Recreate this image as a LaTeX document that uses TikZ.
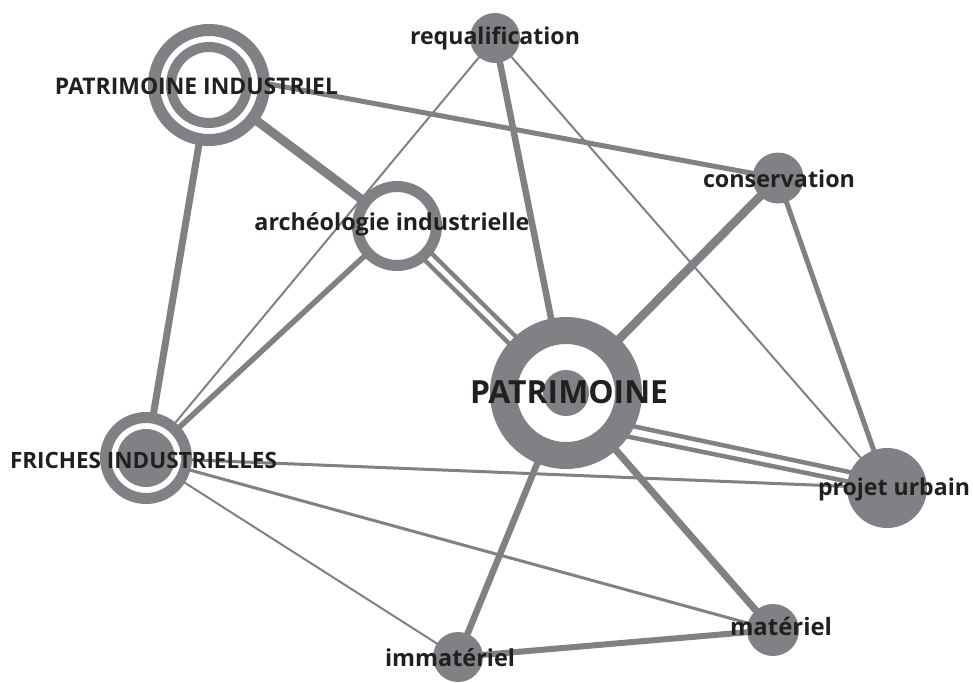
\documentclass[tikz,border=0pt]{standalone}
\usepackage{fontspec}
\setmainfont{Open Sans}
\usepackage{graphicx}
\definecolor{gr}{RGB}{128,129,133}
\definecolor{tx}{RGB}{35,31,32}
\newcommand\lbl[2]{\resizebox{#1pt}{!}{\bfseries #2}}
\begin{document}
\begin{tikzpicture}[x=1pt,y=-1pt,
  edge/.style={draw=gr, line cap=butt},
  dbl/.style={draw=gr, double=white, double distance=5pt, line width=4.5pt},
  lab/.style={anchor=base, inner sep=0pt, outer sep=0pt, text=tx}]
\useasboundingbox[fill=white] (0,0) rectangle (973,682);
% node centres
\coordinate (pi) at (209,85);
\coordinate (rq) at (495,38);
\coordinate (cs) at (778,178);
\coordinate (ar) at (397,226);
\coordinate (pa) at (566,393);
\coordinate (fr) at (146,458);
\coordinate (pu) at (887,488);
\coordinate (im) at (458,657);
\coordinate (ma) at (773,630);
% connectors
\draw[dbl] (ar) -- (pa);
\draw[edge, line width=4.5] ([yshift=-19pt]pa) -- ([yshift=8pt]pu);
\draw[edge, line width=4.5] ([yshift=-31pt]pa) -- ([yshift=-1.5pt]pu);
\draw[edge, line width=5] ([yshift=12pt]pi) -- (cs);
\draw[edge, line width=9] (pi) -- (ar);
\draw[edge, line width=7] (pi) -- (fr);
\draw[edge, line width=2] (rq) -- (fr);
\draw[edge, line width=6.5] (rq) -- (pa);
\draw[edge, line width=2] (rq) -- (pu);
\draw[edge, line width=5.5] (ar) -- (fr);
\draw[edge, line width=8.5] (cs) -- (pa);
\draw[edge, line width=5] (cs) -- (pu);
\draw[edge, line width=6.5] (pa) -- (im);
\draw[edge, line width=7] (pa) -- (ma);
\draw[edge, line width=3] (fr) -- (pu);
\draw[edge, line width=3] (fr) -- (ma);
\draw[edge, line width=2] (fr) -- (im);
\draw[edge, line width=6] (im) -- (ma);
% node shapes
\draw[gr, line width=12, fill=white] (pi) circle[radius=55pt];
\draw[gr, line width=10] (pi) circle[radius=38pt];
\fill[gr] (rq) circle[radius=25pt];
\fill[gr] (cs) circle[radius=25.5pt];
\draw[gr, line width=11, fill=white] (ar) circle[radius=39.5pt];
\draw[gr, line width=27, fill=white] (pa) circle[radius=62.5pt];
\fill[gr] (pa) circle[radius=23pt];
\draw[gr, line width=11, fill=white] (fr) circle[radius=40.5pt];
\fill[gr] (fr) circle[radius=29pt];
\fill[gr] (pu) circle[radius=40pt];
\fill[gr] (im) circle[radius=25pt];
\fill[gr] (ma) circle[radius=26pt];
% labels
\node[lab] (tpi) at (196.5,95) {\lbl{283}{PATRIMOINE INDUSTRIEL}};
\node[lab] (trq) at (495,45) {\lbl{170}{requalification}};
\node[lab] (tcs) at (779,187) {\lbl{152}{conservation}};
\node[lab] (tar) at (392,230) {\lbl{275}{archéologie industrielle}};
\node[lab] (tpa) at (569,403) {\lbl{198}{PATRIMOINE}};
\node[lab] (tfr) at (143.5,468) {\lbl{267}{FRICHES INDUSTRIELLES}};
\node[lab] (tpu) at (894,495) {\lbl{152}{projet urbain}};
\node[lab] (tim) at (450,666) {\lbl{130}{immatériel}};
\node[lab] (tma) at (781,635) {\lbl{102}{matériel}};
\end{tikzpicture}
\end{document}
